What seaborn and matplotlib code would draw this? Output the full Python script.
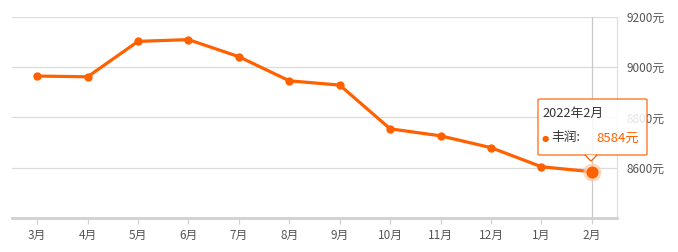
import matplotlib
matplotlib.use("Agg")
import matplotlib.pyplot as plt
import seaborn as sns
import pandas as pd
from matplotlib.patches import FancyBboxPatch, Polygon

months = ["3月", "4月", "5月", "6月", "7月", "8月", "9月", "10月", "11月", "12月", "1月", "2月"]
prices = [8965, 8962, 9103, 9110, 9042, 8946, 8929, 8755, 8727, 8680, 8604, 8584]
y_ticks = [8600, 8800, 9000, 9200]
y_tick_labels = ["8600元", "8800元", "9000元", "9200元"]
tip_title = "2022年2月"
tip_series = "丰润:"
tip_value = "8584元"

sns.set_theme(style="white")
plt.rcParams['font.family'] = ['Noto Sans CJK SC', 'DejaVu Sans']

ORANGE = "#ff6000"
GRID = "#dcdcdc"
TEXT = "#555555"

df = pd.DataFrame({"month": months, "price": prices})
fig = plt.figure(figsize=(6.78, 2.52), dpi=100)
ax = fig.add_axes([12/678, 1-218/252, (617-12)/678, (218-17)/252])

sns.lineplot(data=df, x="month", y="price", sort=False, color=ORANGE, lw=2.3,
             marker="o", markersize=6, markeredgewidth=0, ax=ax, zorder=5)

n = len(months)
ax.set_xlim(-0.5, n - 0.5)
ax.set_ylim(8400, 9200)

for v in y_ticks:
    ax.axhline(v, color=GRID, lw=0.9, zorder=1)
ax.axvline(n - 1, color="#c8c8c8", lw=0.9, zorder=2)

# last point highlight
ax.scatter([n - 1], [prices[-1]], s=170, color="#ffc9a6", alpha=0.7, zorder=6, linewidths=0)
ax.scatter([n - 1], [prices[-1]], s=75, color=ORANGE, zorder=7, linewidths=0)

ax.set_xticks(range(n))
ax.set_xticklabels(months, fontsize=8.5, color=TEXT)
ax.yaxis.tick_right()
ax.set_yticks(y_ticks)
ax.set_yticklabels(y_tick_labels, fontsize=8.5, color=TEXT)
ax.tick_params(axis="y", length=0, pad=7)
ax.tick_params(axis="x", length=4, width=0.9, color="#d0d0d0", pad=4, bottom=True)
ax.set_xlabel("")
ax.set_ylabel("")

for s in ["top", "left"]:
    ax.spines[s].set_visible(False)
ax.spines["bottom"].set_color("#d0d0d0")
ax.spines["bottom"].set_linewidth(2)
ax.spines["right"].set_color("#e0e0e0")
ax.spines["right"].set_linewidth(0.9)

# tooltip (figure pixel coords)
def fx(px):
    return px / 678
def fy(py):
    return 1 - py / 252

box = FancyBboxPatch((fx(538), fy(155)), fx(647) - fx(538), fy(99) - fy(155),
                     boxstyle="round,pad=0,rounding_size=0.004", transform=fig.transFigure,
                     facecolor="white", edgecolor=ORANGE, lw=1.0, alpha=0.85, zorder=20)
fig.patches.append(box)
tri = Polygon([(fx(585), fy(155)), (fx(597), fy(155)), (fx(591), fy(161))], closed=True,
              transform=fig.transFigure, facecolor="white", edgecolor=ORANGE, lw=1.0, zorder=21)
fig.patches.append(tri)
cover = Polygon([(fx(585.8), fy(154.6)), (fx(596.2), fy(154.6)), (fx(591), fy(159.8))], closed=True,
                transform=fig.transFigure, facecolor="white", edgecolor="none", zorder=22)
fig.patches.append(cover)

fig.text(fx(542), fy(113), tip_title, fontsize=9.2, color="#333333", va="center", ha="left", zorder=30)
fig.text(fx(542), fy(138), "●", fontsize=6, color=ORANGE, va="center", ha="left", zorder=30,
         family=["DejaVu Sans"])
fig.text(fx(551), fy(138), tip_series, fontsize=9.2, color="#333333", va="center", ha="left", zorder=30)
fig.text(fx(596), fy(138), tip_value, fontsize=9.5, color=ORANGE, va="center", ha="left", zorder=30)

fig.savefig("out.png", dpi=100, facecolor="white")
